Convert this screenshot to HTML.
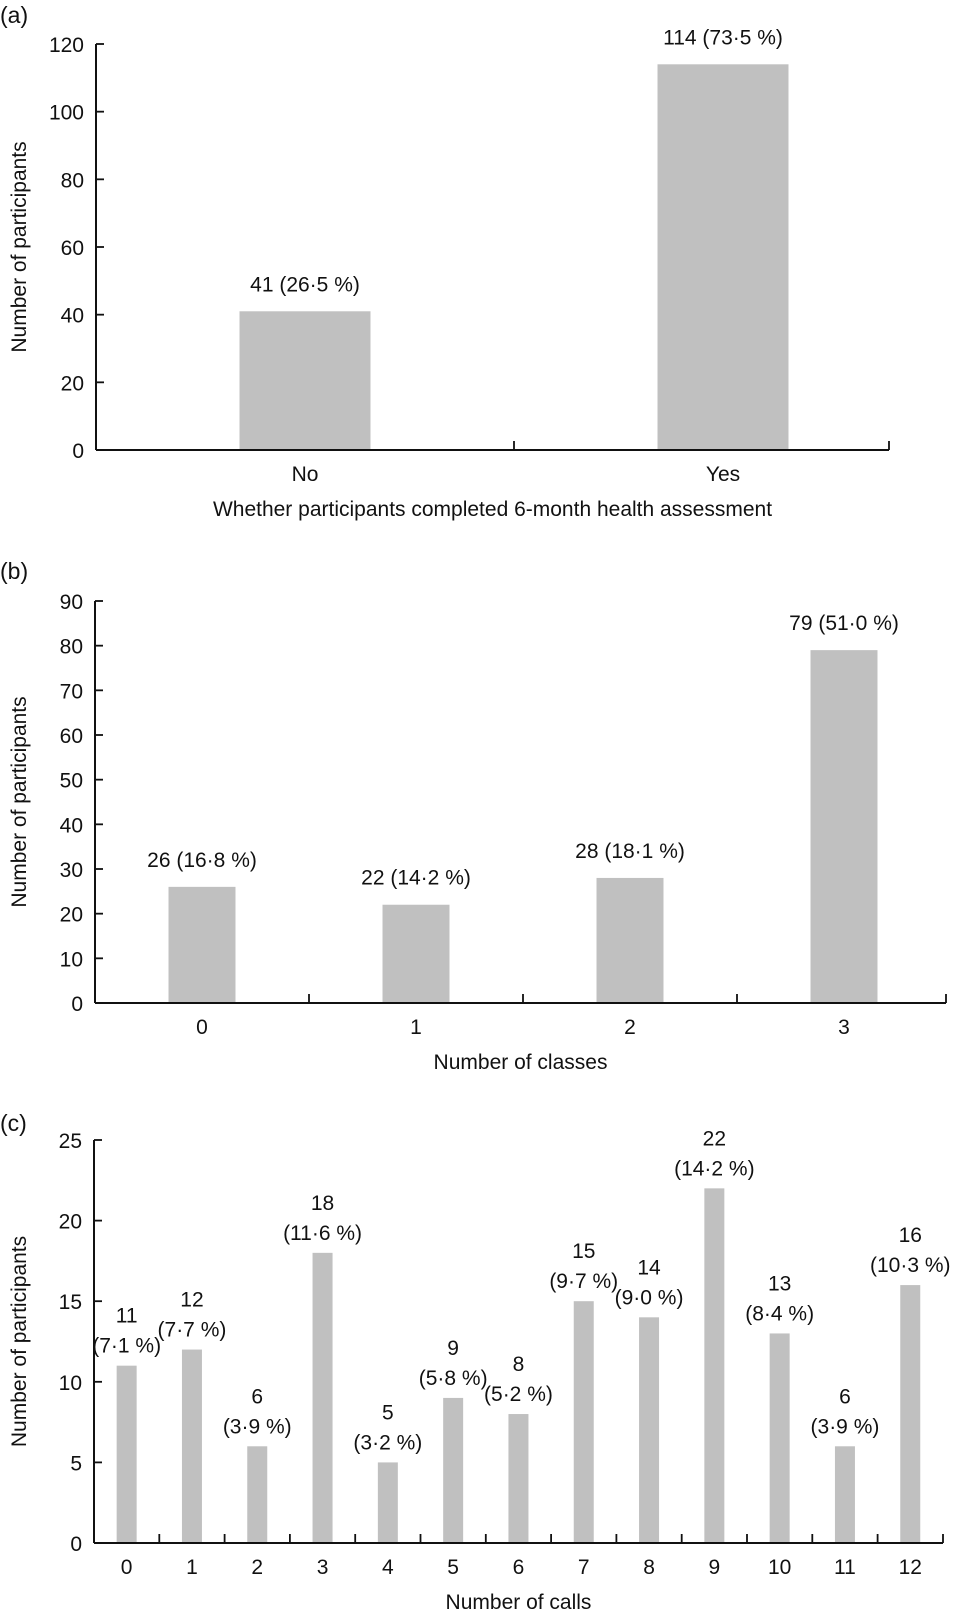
<!DOCTYPE html>
<html><head><meta charset="utf-8"><style>
body{margin:0;background:#fff;}
svg text{font-family:"Liberation Sans",sans-serif;fill:#111;}
</style></head><body>
<svg id="s" width="959" height="1613" xmlns="http://www.w3.org/2000/svg"></svg>
<script>
const aCats=["No","Yes"];
const aVals=[41,114];
const aLabels=["41 (26·5 %)","114 (73·5 %)"];
const aTicks=[0,20,40,60,80,100,120];
const bCats=["0","1","2","3"];
const bVals=[26,22,28,79];
const bLabels=["26 (16·8 %)","22 (14·2 %)","28 (18·1 %)","79 (51·0 %)"];
const bTicks=[0,10,20,30,40,50,60,70,80,90];
const cCats=["0","1","2","3","4","5","6","7","8","9","10","11","12"];
const cVals=[11,12,6,18,5,9,8,15,14,22,13,6,16];
const cCounts=["11","12","6","18","5","9","8","15","14","22","13","6","16"];
const cPcts=["(7·1 %)","(7·7 %)","(3·9 %)","(11·6 %)","(3·2 %)","(5·8 %)","(5·2 %)","(9·7 %)","(9·0 %)","(14·2 %)","(8·4 %)","(3·9 %)","(10·3 %)"];
const cTicks=[0,5,10,15,20,25];
const svg=document.getElementById('s');
const NS="http://www.w3.org/2000/svg";
function el(t,a,txt){const e=document.createElementNS(NS,t);for(const k in a)e.setAttribute(k,a[k]);if(txt!==undefined)e.textContent=txt;svg.appendChild(e);return e;}
function panel(o){
  const yS=v=>o.y0-(v/o.max)*(o.y0-o.yTop);
  const step=o.step;
  const xC=i=>o.x0+step*(i+0.5);
  let t=el('text',{x:0,y:o.tagY,'font-size':23},o.tag);
  
  
  o.vals.forEach((v,i)=>{
    let r=el('rect',{x:xC(i)-o.bw/2,y:yS(v),width:o.bw,height:o.y0-yS(v),fill:'#c0c0c0'});
    
    
    if(o.labels){
      let l=el('text',{x:xC(i),y:yS(v)-20,'font-size':21,'text-anchor':'middle'},o.labels[i]);
      
      
    }else{
      let l1=el('text',{x:xC(i),y:yS(v)-43,'font-size':21,'text-anchor':'middle'},o.counts[i]);
      
      
      let l2=el('text',{x:xC(i),y:yS(v)-13,'font-size':21,'text-anchor':'middle'},o.pcts[i]);
      
      
    }
    let c=el('text',{x:xC(i),y:o.y0+31,'font-size':21,'text-anchor':'middle'},o.cats[i]);
    
    
  });
  let ya=el('line',{x1:o.x0,y1:o.yTop,x2:o.x0,y2:o.y0,stroke:'#111','stroke-width':2});
  
  
  let xa=el('line',{x1:o.x0,y1:o.y0,x2:o.x1,y2:o.y0,stroke:'#111','stroke-width':2});
  
  
  for(let i=1;i<=o.cats.length;i++){
    const tx=i===o.cats.length?o.x1:o.x0+step*i;
    let tk=el('line',{x1:tx,y1:o.y0,x2:tx,y2:o.y0-9,stroke:'#111','stroke-width':1.8});
    
    
  }
  o.ticks.forEach(v=>{
    let tk=el('line',{x1:o.x0,y1:yS(v),x2:o.x0+8,y2:yS(v),stroke:'#111','stroke-width':1.8});
    
    
    let tl=el('text',{x:o.x0-12,y:yS(v)+8,'font-size':21,'text-anchor':'end'},v);
    
    
  });
  let yt=el('text',{x:0,y:0,'font-size':21,'text-anchor':'middle',transform:`translate(26,${(o.y0+o.yTop)/2}) rotate(-90)`},'Number of participants');
  
  
  let xt=el('text',{x:(o.x0+o.x1)/2,y:o.y0+66,'font-size':21,'text-anchor':'middle'},o.xTitle);
  
  
}
panel({id:'a',tag:'(a)',tagY:23,cats:aCats,vals:aVals,labels:aLabels,ticks:aTicks,max:120,x0:96,x1:889,step:418,y0:450,yTop:44,bw:131,xTitle:'Whether participants completed 6-month health assessment'});
panel({id:'b',tag:'(b)',tagY:579,cats:bCats,vals:bVals,labels:bLabels,ticks:bTicks,max:90,x0:95,x1:946,step:214,y0:1003,yTop:601,bw:67,xTitle:'Number of classes'});
panel({id:'c',tag:'(c)',tagY:1131,cats:cCats,vals:cVals,counts:cCounts,pcts:cPcts,ticks:cTicks,max:25,x0:94,x1:943,step:65.3,y0:1543,yTop:1140,bw:20,xTitle:'Number of calls'});
</script>
</body></html>
